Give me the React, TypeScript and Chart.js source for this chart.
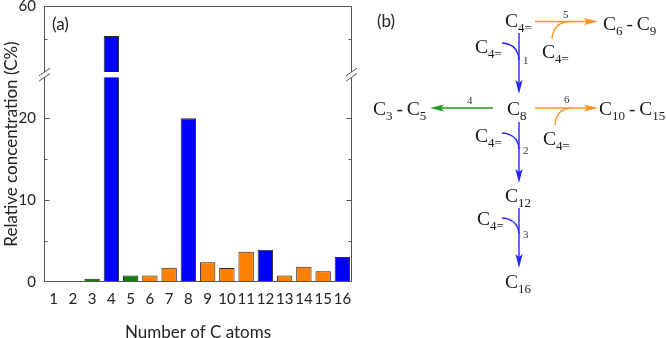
import React, { useEffect, useRef } from 'react';
import { Chart, registerables, LinearScale } from 'chart.js';

// ---------- data ----------
const CARBON_NUMBERS = ['1', '2', '3', '4', '5', '6', '7', '8', '9', '10', '11', '12', '13', '14', '15', '16'];
const CONCENTRATION = [0, 0, 0.4, 51, 0.8, 0.8, 1.75, 20, 2.4, 1.7, 3.7, 3.95, 0.8, 1.85, 1.3, 3.05];
const ROUTE = ['none', 'none', 'cracking', 'dimer', 'cracking', 'co', 'co', 'dimer', 'co', 'co', 'co', 'dimer', 'co', 'co', 'co', 'dimer'];
const Y_TICKS = [0, 5, 10, 15, 20, 50, 60];
const Y_LABELED = [0, 10, 20, 60];

const ROUTE_FILL: Record<string, string> = {
  none: '#ffffff',
  cracking: '#0a7d0a',
  dimer: '#0000ff',
  co: '#ff8000',
};

// broken axis settings
const LOWER_MAX = 25;
const UPPER_MIN = 38.5;
const Y_MAX = 60;
const BREAK_FRAC = 0.7413;
const GAP = 5.4;
const AXIS_COLOR = '#555555';
const FONT = 'Lato, "Open Sans", sans-serif';
const SERIF = '"Liberation Serif", "DejaVu Serif", serif';
const DASH = '\u2009-\u2009C';

class BrokenLinearScale extends LinearScale {
  static id = 'brokenLinear';
  static defaults = LinearScale.defaults;
  breakPixel() {
    return this.bottom - (this.bottom - this.top) * BREAK_FRAC;
  }
  getPixelForValue(value: number) {
    const bp = this.breakPixel();
    if (value <= LOWER_MAX) return this.bottom - (value / LOWER_MAX) * (this.bottom - bp);
    if (value <= UPPER_MIN) return bp;
    return bp - ((value - UPPER_MIN) / (Y_MAX - UPPER_MIN)) * (bp - this.top);
  }
  getValueForPixel(pixel: number) {
    const bp = this.breakPixel();
    if (pixel >= bp) return ((this.bottom - pixel) / (this.bottom - bp)) * LOWER_MAX;
    return UPPER_MIN + ((bp - pixel) / (bp - this.top)) * (Y_MAX - UPPER_MIN);
  }
}

Chart.register(...registerables, BrokenLinearScale);

const framePlugin = {
  id: 'frame',
  afterDatasetsDraw(chart: any) {
    const { ctx, chartArea } = chart;
    const { left, right, top, bottom } = chartArea;
    const y = chart.scales.y;
    const bp = y.breakPixel();
    const L = Math.round(left) + 0.5;
    const R = Math.round(right) - 0.5;
    const T = Math.round(top) + 0.5;
    const B = Math.round(bottom) - 0.5;
    ctx.save();
    ctx.strokeStyle = AXIS_COLOR;
    ctx.lineWidth = 1;
    ctx.beginPath();
    ctx.moveTo(L, B); ctx.lineTo(R, B);
    ctx.moveTo(L, T); ctx.lineTo(R, T);
    ctx.moveTo(L, T); ctx.lineTo(L, B);
    ctx.moveTo(R, T); ctx.lineTo(R, B);
    Y_TICKS.forEach((v) => {
      if (v === 0 || v === Y_MAX) return;
      const py = Math.round(y.getPixelForValue(v)) + 0.5;
      const len = Y_LABELED.includes(v) ? 5 : 3;
      ctx.moveTo(L, py); ctx.lineTo(L + len, py);
      ctx.moveTo(R, py); ctx.lineTo(R - len, py);
    });
    ctx.stroke();
    // break gap
    ctx.fillStyle = '#ffffff';
    ctx.fillRect(left - 3, bp - GAP, right - left + 6, GAP);
    // break marks
    ctx.strokeStyle = AXIS_COLOR;
    ctx.beginPath();
    [L, R].forEach((x) => {
      [bp - GAP, bp].forEach((yy) => {
        ctx.moveTo(x - 5.5, yy + 3.8);
        ctx.lineTo(x + 5.5, yy - 3.8);
      });
    });
    ctx.stroke();
    ctx.restore();
  },
};

function ChartPanel() {
  const ref = useRef<HTMLCanvasElement | null>(null);
  useEffect(() => {
    if (!ref.current) return;
    const chart = new Chart(ref.current, {
      type: 'bar',
      data: {
        labels: CARBON_NUMBERS,
        datasets: [
          {
            data: CONCENTRATION,
            backgroundColor: ROUTE.map((r) => ROUTE_FILL[r]),
            borderColor: '#2a2a2a',
            borderWidth: 1,
            borderSkipped: false,
            barPercentage: 0.8,
            categoryPercentage: 1,
          },
        ],
      },
      options: {
        responsive: false,
        animation: false,
        events: [],
        layout: { padding: { top: 6, right: 314, left: 0, bottom: 0 } },
        plugins: { legend: { display: false }, tooltip: { enabled: false } },
        scales: {
          x: {
            type: 'category',
            offset: true,
            grid: { display: false, drawTicks: false },
            border: { display: false },
            ticks: {
              color: '#222',
              font: { family: FONT, size: 15, lineHeight: 1 },
              padding: 10,
              maxRotation: 0,
              autoSkip: false,
            },
            title: {
              display: true,
              text: 'Number of C atoms',
              color: '#222',
              font: { family: FONT, size: 17, lineHeight: 0.8 },
              padding: { top: 0, bottom: -1 },
            },
            afterFit: (s: any) => {
              s.height = 56;
              s.paddingLeft = 0;
              s.paddingRight = 0;
            },
          },
          y: {
            type: 'brokenLinear' as any,
            min: 0,
            max: Y_MAX,
            grid: { display: false, drawTicks: false },
            border: { display: false },
            ticks: {
              color: '#222',
              font: { family: FONT, size: 15, lineHeight: 1 },
              padding: 8,
              autoSkip: false,
              callback: (v: any) => (Y_LABELED.includes(Number(v)) ? String(v) : ''),
            },
            afterBuildTicks: (s: any) => {
              s.ticks = Y_TICKS.map((v) => ({ value: v }));
            },
            title: {
              display: true,
              text: 'Relative concentration (C%)',
              color: '#222',
              font: { family: FONT, size: 17, lineHeight: 1.2 },
              padding: { top: 1, bottom: 0 },
            },
            afterFit: (s: any) => {
              s.width = 44;
              s.paddingTop = 0;
              s.paddingBottom = 0;
            },
          },
        },
      } as any,
      plugins: [framePlugin],
    });
    return () => chart.destroy();
  }, []);
  return <canvas ref={ref} width={666} height={338} style={{ display: 'block', position: 'absolute', left: 0, top: 0 }} />;
}

type Part = { t: string; sub?: boolean };

function Formula({ x, y, parts }: { x: number; y: number; parts: Part[] }) {
  let inSub = false;
  return (
    <text x={x} y={y} fontFamily={SERIF} fontSize={19.5} fill="#1a1a1a" xmlSpace="preserve">
      {parts.map((p, i) => {
        let dy = 0;
        if (p.sub && !inSub) dy = 5;
        if (!p.sub && inSub) dy = -5;
        inSub = !!p.sub;
        return (
          <tspan key={i} dy={dy} fontSize={p.sub ? 13 : 19.5}>
            {p.t}
          </tspan>
        );
      })}
    </text>
  );
}

const C4 = [{ t: 'C' }, { t: '4=', sub: true }];

function Arrow({ x1, y1, x2, y2, color }: { x1: number; y1: number; x2: number; y2: number; color: string }) {
  const dx = x2 - x1;
  const dy = y2 - y1;
  const len = Math.hypot(dx, dy);
  const ux = dx / len;
  const uy = dy / len;
  const hl = 14;
  const hw = 3.6;
  const bx = x2 - ux * hl;
  const by = y2 - uy * hl;
  const nx = x2 - ux * (hl - 3);
  const ny = y2 - uy * (hl - 3);
  const pts = [
    [x2, y2],
    [bx - uy * hw, by + ux * hw],
    [nx, ny],
    [bx + uy * hw, by - ux * hw],
  ]
    .map((p) => p.join(','))
    .join(' ');
  return (
    <g>
      <line x1={x1} y1={y1} x2={nx} y2={ny} stroke={color} strokeWidth={1.4} />
      <polygon points={pts} fill={color} />
    </g>
  );
}

const BLUE = '#2626ff';
const ORANGE = '#ff9326';
const GREEN = '#1f9a1f';

function Scheme() {
  const num = (x: number, y: number, t: string) => (
    <text x={x} y={y} fontFamily={SERIF} fontSize={11} fill="#333">
      {t}
    </text>
  );
  return (
    <svg width={666} height={338} style={{ position: 'absolute', left: 0, top: 0, pointerEvents: 'none' }}>
      <text x={52} y={30} fontFamily={FONT} fontSize={17} fill="#222">(a)</text>
      <text x={377} y={27} fontFamily={FONT} fontSize={17} fill="#222">(b)</text>

      <Formula x={505} y={27} parts={C4} />
      <Formula x={475} y={53} parts={C4} />
      <Formula x={542} y={58} parts={C4} />
      <Formula x={603} y={30} parts={[{ t: 'C' }, { t: '6', sub: true }, { t: DASH }, { t: '9', sub: true }]} />
      <Formula x={373} y={115} parts={[{ t: 'C' }, { t: '3', sub: true }, { t: DASH }, { t: '5', sub: true }]} />
      <Formula x={507} y={115} parts={[{ t: 'C' }, { t: '8', sub: true }]} />
      <Formula x={599} y={115} parts={[{ t: 'C' }, { t: '10', sub: true }, { t: DASH }, { t: '15', sub: true }]} />
      <Formula x={475} y={142} parts={C4} />
      <Formula x={543} y={145} parts={C4} />
      <Formula x={505} y={202} parts={[{ t: 'C' }, { t: '12', sub: true }]} />
      <Formula x={477} y={225} parts={C4} />
      <Formula x={505} y={288} parts={[{ t: 'C' }, { t: '16', sub: true }]} />

      {/* route 1 */}
      <Arrow x1={519} y1={33} x2={519} y2={94} color={BLUE} />
      <path d="M502,43 Q518,44 519,60" stroke={BLUE} strokeWidth={1.3} fill="none" />
      {num(523, 64, '1')}
      {/* route 2 */}
      <Arrow x1={519} y1={122} x2={519} y2={183} color={BLUE} />
      <path d="M502,133 Q518,134 519,149" stroke={BLUE} strokeWidth={1.3} fill="none" />
      {num(523, 154, '2')}
      {/* route 3 */}
      <Arrow x1={519} y1={208} x2={519} y2={268} color={BLUE} />
      <path d="M502,218 Q518,219 519,234" stroke={BLUE} strokeWidth={1.3} fill="none" />
      {num(523, 238, '3')}
      {/* route 4 */}
      <Arrow x1={493} y1={108} x2={430} y2={108} color={GREEN} />
      {num(467, 104, '4')}
      {/* route 5 */}
      <Arrow x1={535} y1={21.5} x2={598} y2={21.5} color={ORANGE} />
      <path d="M552,39 Q553,22 571,21.5" stroke={ORANGE} strokeWidth={1.3} fill="none" />
      {num(563, 18, '5')}
      {/* route 6 */}
      <Arrow x1={535} y1={108} x2={598} y2={108} color={ORANGE} />
      <path d="M555,125 Q556,108.5 572,108" stroke={ORANGE} strokeWidth={1.3} fill="none" />
      {num(564, 103, '6')}
    </svg>
  );
}

export default function App() {
  return (
    <div style={{ position: 'fixed', left: 0, top: 0, width: 666, height: 338, background: '#fff' }}>
      <ChartPanel />
      <Scheme />
    </div>
  );
}
